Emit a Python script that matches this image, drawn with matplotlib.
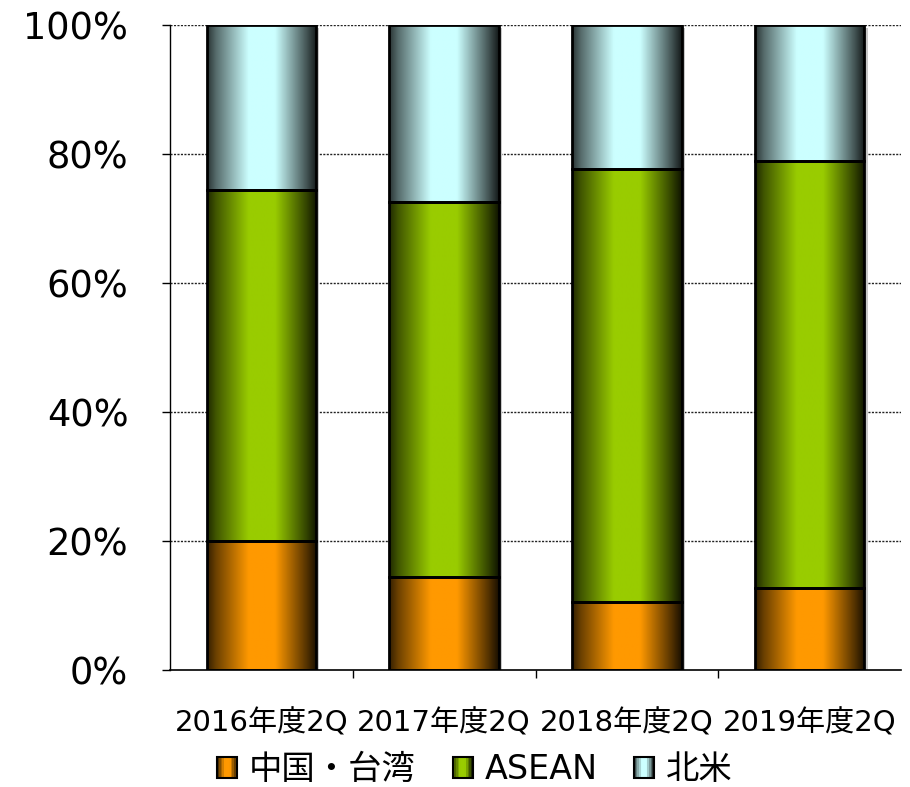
import numpy as np
import matplotlib
matplotlib.use("Agg")
import matplotlib.pyplot as plt
from matplotlib.patches import Rectangle, Patch
from matplotlib.legend_handler import HandlerBase
from matplotlib.colors import to_rgb

plt.rcParams['font.family'] = ['DejaVu Sans', 'Noto Sans CJK JP']

periods = ['2016年度2Q', '2017年度2Q', '2018年度2Q', '2019年度2Q']
regions = ['中国・台湾', 'ASEAN', '北米']
china_taiwan = [20.0, 14.4, 10.6, 12.7]
asean = [54.4, 58.1, 67.0, 66.2]
north_america = [25.6, 27.5, 22.4, 21.1]
colors = ['#FF9900', '#99CC00', '#CCFFFF']

series = [china_taiwan, asean, north_america]

# horizontal shading across each bar: dark edges, bright middle
shade_t = np.linspace(0, 1, 200)
shade = np.interp(shade_t, [0, 0.08, 0.38, 0.62, 0.9, 1.0],
                  [0.2, 0.42, 1.0, 1.0, 0.35, 0.1])


def shaded(color):
    rgb = np.array(to_rgb(color))
    return shade[None, :, None] * rgb[None, None, :]


class GradientHandler(HandlerBase):
    def create_artists(self, legend, orig_handle, xdescent, ydescent,
                       width, height, fontsize, trans):
        rgb = np.array(to_rgb(orig_handle.get_facecolor()))
        n = 12
        arts = []
        for i in range(n):
            t = (i + 0.5) / n
            f = np.interp(t, shade_t, shade)
            arts.append(Rectangle((-xdescent + width * i / n, -ydescent),
                                  width / n + 0.3, height, facecolor=rgb * f,
                                  edgecolor='none', transform=trans))
        arts.append(Rectangle((-xdescent, -ydescent), width, height,
                              facecolor='none', edgecolor='black', lw=1.5,
                              transform=trans))
        return arts


fig = plt.figure(figsize=(9.1, 7.87), dpi=100)
ax = fig.add_axes([170 / 910, 117 / 787, 731 / 910, 645 / 787])

x = np.arange(len(periods))
width = 0.6
bottoms = np.zeros(len(periods))
for vals, col in zip(series, colors):
    for xi, b, v in zip(x, bottoms, vals):
        x0, x1 = xi - width / 2, xi + width / 2
        ax.add_patch(Rectangle((x0 + 0.018, b - 0.4), width, v, facecolor='#c8c8c8',
                               edgecolor='none', zorder=1.5))
        ax.imshow(shaded(col), extent=[x0, x1, b, b + v], aspect='auto',
                  interpolation='bilinear', zorder=2)
    bottoms = bottoms + np.array(vals)

# bar outlines and segment borders
bottoms = np.zeros(len(periods))
for vals in series:
    for xi, b, v in zip(x, bottoms, vals):
        ax.add_patch(Rectangle((xi - width / 2, b), width, v, facecolor='none',
                               edgecolor='black', lw=2, zorder=3))
    bottoms = bottoms + np.array(vals)

ax.set_xlim(-0.5, len(periods) - 0.5)
ax.set_ylim(0, 100)
ax.set_yticks(np.arange(0, 101, 20))
ax.set_yticklabels([f'{v}%' for v in range(0, 101, 20)], fontsize=26.5)
ax.set_xticks(x)
ax.set_xticklabels(periods, fontsize=21)
ax.set_xticks(np.arange(0.5, len(periods) - 0.5, 1), minor=True)
ax.tick_params(axis='x', which='major', length=0, pad=28)
ax.tick_params(axis='x', which='minor', length=6, width=1, direction='out')
ax.tick_params(axis='y', length=6, width=1, direction='out', pad=24)

for yv in range(20, 101, 20):
    ax.axhline(yv, color='#222222', lw=1, ls=(0, (1.5, 1)), zorder=1)

for s in ['top', 'right']:
    ax.spines[s].set_visible(False)
ax.spines['left'].set_linewidth(1)
ax.spines['bottom'].set_linewidth(1.2)
ax.set_facecolor('none')

handles = [Patch(facecolor=c) for c in colors]
fig.legend(handles, regions, loc='center', bbox_to_anchor=(0.522, 0.022),
           ncol=3, frameon=False, fontsize=24, handlelength=0.6, handleheight=0.6,
           handletextpad=0.35, columnspacing=1.1,
           handler_map={Patch: GradientHandler()})

fig.savefig('out.png', dpi=100)
